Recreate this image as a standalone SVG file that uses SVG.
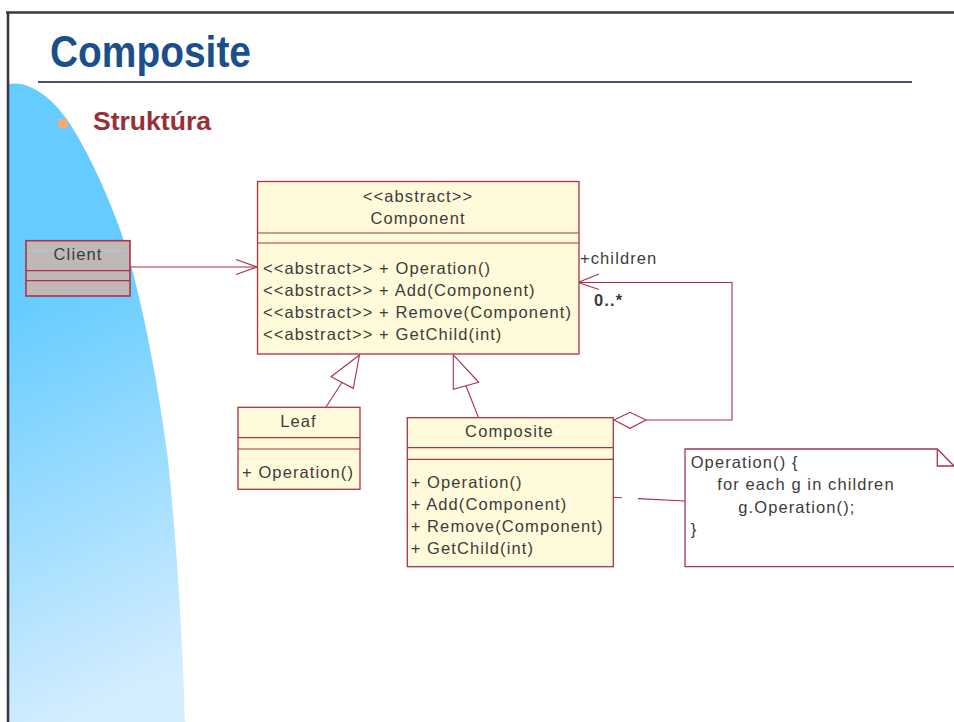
<svg xmlns="http://www.w3.org/2000/svg" width="954" height="722" viewBox="0 0 954 722">
  <style>
    .cls { fill: #fffad9; stroke: #a8344c; stroke-width: 1.3; }
    .client { fill: #c0b8b6; stroke: #b0304a; stroke-width: 1.6; }
    .sep { stroke: #a8344c; stroke-width: 1.2; fill: none; }
    .t { font-family: "Liberation Sans", Arial, sans-serif; font-size: 16.5px; fill: #3c3c3c; letter-spacing: 1.1px; }
    .mid { text-anchor: middle; }
    .conn { stroke: #a8304a; stroke-width: 1.1; fill: none; }
    .head { stroke: #a8304a; stroke-width: 1.1; fill: #ffffff; }
  </style>
  <defs>
    <linearGradient id="swoosh" gradientUnits="userSpaceOnUse" x1="30" y1="300" x2="200" y2="660">
      <stop offset="0" stop-color="#66ccff"/>
      <stop offset="1" stop-color="#d4edff"/>
    </linearGradient>
  </defs>

  <rect width="954" height="722" fill="#ffffff"/>

  <!-- slide background -->
  <path d="M9,722 L9,84 C30,80 55,100 70,124 C90,155 110,200 122,235 C140,290 158,380 168,460 C176,540 182,620 185,722 Z" fill="url(#swoosh)"/>
  <path d="M6,12.5 H954 M8,12 V722" stroke="#3a3a3e" stroke-width="2.6" fill="none"/>

  <!-- heading -->
  <text x="50" y="67" font-family="Liberation Sans, Arial, sans-serif" font-weight="bold" font-size="45" fill="#1a4f8c" textLength="201" lengthAdjust="spacingAndGlyphs">Composite</text>
  <line x1="38" y1="82" x2="912" y2="82" stroke="#4d4d6e" stroke-width="2"/>
  <rect x="58.5" y="119" width="9" height="9" fill="#f7a86e"/>
  <text x="93" y="130" font-family="Liberation Sans, Arial, sans-serif" font-weight="bold" font-size="25" fill="#993038" textLength="118" lengthAdjust="spacingAndGlyphs">Struktúra</text>

  <!-- connectors -->
  <g id="connectors">
    <!-- Client to Component -->
    <line class="conn" x1="130" y1="267" x2="257" y2="267"/>
    <polyline class="conn" points="236,259.5 257,267 236,274.5"/>
    <!-- children aggregation -->
    <polyline class="conn" points="646,420 732,420 732,282.5 578,282.5"/>
    <polyline class="conn" points="599,274 578,282.5 599,289.5"/>
    <polygon class="head" points="614,420 630,412.3 646,420 630,428.3"/>
    <text class="t" x="580" y="264">+children</text>
    <text class="t" x="594" y="306" font-size="15" font-weight="bold" letter-spacing="0.8" fill="#333333">0..*</text>
    <!-- Leaf generalization -->
    <line class="conn" x1="342" y1="382.5" x2="326" y2="407"/>
    <polygon class="head" points="359.5,355 331,376.7 353.3,388.3"/>
    <!-- Composite generalization -->
    <line class="conn" x1="466" y1="386" x2="478.5" y2="417.5"/>
    <polygon class="head" points="453.3,355 453.3,389.3 478.7,382.3"/>
    <!-- note anchor -->
    <line class="conn" x1="613" y1="497.3" x2="685" y2="501" stroke-dasharray="9 16 50"/>
  </g>

  <!-- Client -->
  <g id="client">
    <rect class="client" x="26" y="240.7" width="104" height="55.3"/>
    <line x1="27" y1="250.7" x2="125" y2="250.7" stroke="#b6c8d6" stroke-width="1"/>
    <line class="sep" x1="26" y1="270.7" x2="130" y2="270.7"/>
    <line class="sep" x1="26" y1="280.7" x2="130" y2="280.7"/>
    <text class="t mid" x="78" y="260">Client</text>
  </g>

  <!-- Component -->
  <g id="component">
    <rect class="cls" x="257.5" y="181.5" width="321.5" height="172.5"/>
    <line class="sep" x1="257.5" y1="233" x2="579" y2="233"/>
    <line class="sep" x1="257.5" y1="243" x2="579" y2="243"/>
    <text class="t mid" x="418" y="202">&lt;&lt;abstract&gt;&gt;</text>
    <text class="t mid" x="418" y="224">Component</text>
    <text class="t" x="263" y="274.3">&lt;&lt;abstract&gt;&gt; + Operation()</text>
    <text class="t" x="263" y="296">&lt;&lt;abstract&gt;&gt; + Add(Component)</text>
    <text class="t" x="263" y="317.5">&lt;&lt;abstract&gt;&gt; + Remove(Component)</text>
    <text class="t" x="263" y="340">&lt;&lt;abstract&gt;&gt; + GetChild(int)</text>
  </g>

  <!-- Leaf -->
  <g id="leaf">
    <rect class="cls" x="238" y="407.3" width="122" height="82"/>
    <line class="sep" x1="238" y1="437.7" x2="360" y2="437.7"/>
    <line class="sep" x1="238" y1="449" x2="360" y2="449"/>
    <text class="t mid" x="298.5" y="426.7">Leaf</text>
    <text class="t" x="242" y="478.3">+ Operation()</text>
  </g>

  <!-- Composite -->
  <g id="composite">
    <rect class="cls" x="407.3" y="417.7" width="206" height="149"/>
    <line class="sep" x1="407.3" y1="447.7" x2="613.3" y2="447.7"/>
    <line class="sep" x1="407.3" y1="459.3" x2="613.3" y2="459.3"/>
    <text class="t mid" x="509.5" y="437.3">Composite</text>
    <text class="t" x="410.7" y="488.3">+ Operation()</text>
    <text class="t" x="410.7" y="510">+ Add(Component)</text>
    <text class="t" x="410.7" y="532.3">+ Remove(Component)</text>
    <text class="t" x="410.7" y="554.3">+ GetChild(int)</text>
  </g>

  <!-- Note -->
  <g id="note">
    <path d="M954,566.7 H685 V449 H937.3 L954,466" fill="#ffffff" stroke="#a8344c" stroke-width="1.3"/>
    <path d="M937.3,449 V466 H954" fill="none" stroke="#a8344c" stroke-width="1.3"/>
    <text class="t" x="690.7" y="468.3">Operation() {</text>
    <text class="t" x="717.3" y="490">for each g in children</text>
    <text class="t" x="738.3" y="513.3">g.Operation();</text>
    <text class="t" x="690.7" y="535">}</text>
  </g>
</svg>
